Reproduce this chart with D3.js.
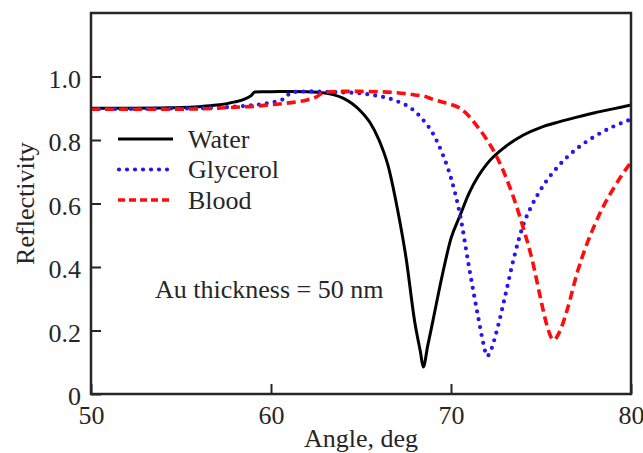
<!DOCTYPE html>
<html lang="en">
<head>
  <meta charset="UTF-8">
  <title></title>
  <style>
    body { margin: 0; background: #fff; }
  </style>
</head>
<body>
  <script src="https://d3js.org/d3.v7.min.js"></script>
  <script>
    const waterAngle = [50, 52, 54, 55, 56, 57, 58, 58.5, 58.9, 59.1, 59.5, 60, 61, 62, 63, 63.5, 64, 64.5, 65, 65.5, 66, 66.5, 67, 67.5, 68, 68.3, 68.46, 68.7, 69, 69.5, 70, 70.5, 71, 71.5, 72, 73, 74, 75, 76, 77, 78, 79, 80];
    const waterR = [0.900, 0.900, 0.901, 0.902, 0.905, 0.910, 0.920, 0.928, 0.940, 0.951, 0.952, 0.952, 0.953, 0.952, 0.948, 0.942, 0.932, 0.915, 0.890, 0.855, 0.800, 0.720, 0.590, 0.430, 0.222, 0.133, 0.085, 0.150, 0.232, 0.370, 0.490, 0.562, 0.632, 0.685, 0.725, 0.778, 0.815, 0.840, 0.857, 0.872, 0.886, 0.898, 0.910];

    const glyAngle = [50, 52, 54, 56, 57, 58, 59, 59.5, 60, 60.5, 60.8, 61.1, 61.5, 62, 63, 64, 65, 66, 66.5, 67, 67.5, 68, 68.5, 69, 69.5, 70, 70.5, 71, 71.5, 71.8, 72, 72.2, 72.5, 73, 73.5, 74, 74.5, 75, 76, 77, 78, 79, 80];
    const glyR = [0.898, 0.898, 0.899, 0.900, 0.902, 0.905, 0.910, 0.913, 0.918, 0.925, 0.932, 0.950, 0.952, 0.953, 0.952, 0.950, 0.947, 0.938, 0.932, 0.922, 0.910, 0.890, 0.860, 0.820, 0.760, 0.680, 0.565, 0.400, 0.245, 0.159, 0.119, 0.135, 0.190, 0.306, 0.430, 0.530, 0.595, 0.645, 0.720, 0.773, 0.812, 0.842, 0.865];

    const bloodAngle = [50, 52, 54, 56, 58, 59, 60, 61, 62, 62.5, 62.9, 63.3, 64, 65, 66, 67, 68, 68.5, 69, 69.5, 70, 70.5, 71, 71.5, 72, 72.5, 73, 73.5, 74, 74.5, 75, 75.3, 75.7, 76.1, 76.5, 77, 77.5, 78, 78.5, 79, 79.5, 80];
    const bloodR = [0.897, 0.897, 0.897, 0.898, 0.903, 0.906, 0.911, 0.917, 0.926, 0.935, 0.949, 0.952, 0.953, 0.953, 0.952, 0.949, 0.942, 0.938, 0.928, 0.920, 0.912, 0.900, 0.875, 0.840, 0.800, 0.752, 0.690, 0.615, 0.526, 0.425, 0.295, 0.222, 0.170, 0.205, 0.274, 0.380, 0.465, 0.535, 0.595, 0.645, 0.690, 0.730];

    const xTicks = [50, 60, 70, 80];
    const yTicks = [0, 0.2, 0.4, 0.6, 0.8, 1.0];

    const series = [
      { name: "Water", angle: waterAngle, r: waterR, color: "#000", width: 3, dash: null, cap: "butt" },
      { name: "Glycerol", angle: glyAngle, r: glyR, color: "#2a14f2", width: 4.2, dash: "0,8", cap: "round" },
      { name: "Blood", angle: bloodAngle, r: bloodR, color: "#ff0d0d", width: 3.6, dash: "9,5", cap: "butt" }
    ];

    const [width, height] = [643, 453];
    const margin = { top: 13, right: 12, bottom: 59, left: 91 };
    const font = "'Liberation Serif', 'Times New Roman', serif";
    const fs = 26;
    const ink = "#262626";

    const x = d3.scaleLinear().domain([50, 80]).range([margin.left, width - margin.right]);
    const y = d3.scaleLinear().domain([0, 1.2]).range([height - margin.bottom, margin.top]);

    const svg = d3.select(document.body)
      .append("svg")
      .attr("width", width)
      .attr("height", height)
      .attr("viewBox", [0, 0, width, height])
      .attr("font-family", font);

    const clip = svg.append("clipPath").attr("id", "clip")
      .append("rect")
      .attr("x", margin.left).attr("y", margin.top)
      .attr("width", width - margin.right - margin.left)
      .attr("height", height - margin.bottom - margin.top);

    const line = d3.line()
      .curve(d3.curveMonotoneX)
      .x(d => x(d[0]))
      .y(d => y(d[1]));

    svg.append("g")
      .attr("clip-path", "url(#clip)")
      .selectAll("path")
      .data(series)
      .join("path")
      .attr("fill", "none")
      .attr("stroke", d => d.color)
      .attr("stroke-width", d => d.width)
      .attr("stroke-dasharray", d => d.dash)
      .attr("stroke-linecap", d => d.cap)
      .attr("stroke-linejoin", "round")
      .attr("d", d => line(d.angle.map((a, i) => [a, d.r[i]])));

    // axes with inward ticks
    svg.append("g")
      .attr("transform", `translate(0,${height - margin.bottom})`)
      .call(d3.axisBottom(x).tickValues(xTicks).tickSizeInner(-10).tickSizeOuter(0).tickPadding(11.5))
      .call(g => g.select(".domain").remove())
      .call(g => g.selectAll(".tick line").attr("stroke", ink).attr("stroke-width", 2))
      .call(g => g.selectAll(".tick text").attr("font-size", fs).attr("fill", ink).attr("font-family", font));

    svg.append("g")
      .attr("transform", `translate(${margin.left},0)`)
      .call(d3.axisLeft(y).tickValues(yTicks).tickFormat(d => d === 0 ? "0" : d3.format(".1f")(d))
        .tickSizeInner(-10).tickSizeOuter(0).tickPadding(10))
      .call(g => g.select(".domain").remove())
      .call(g => g.selectAll(".tick line").attr("stroke", ink).attr("stroke-width", 2))
      .call(g => g.selectAll(".tick text").attr("font-size", fs).attr("fill", ink).attr("font-family", font).attr("dy", "0.42em"));

    svg.append("rect")
      .attr("x", margin.left).attr("y", margin.top)
      .attr("width", width - margin.right - margin.left)
      .attr("height", height - margin.bottom - margin.top)
      .attr("fill", "none")
      .attr("stroke", ink)
      .attr("stroke-width", 2.5);

    svg.append("text")
      .attr("x", (margin.left + width - margin.right) / 2)
      .attr("y", 447)
      .attr("text-anchor", "middle")
      .attr("font-size", fs)
      .attr("fill", ink)
      .text("Angle, deg");

    svg.append("text")
      .attr("transform", `translate(34,${(margin.top + height - margin.bottom) / 2}) rotate(-90)`)
      .attr("text-anchor", "middle")
      .attr("font-size", fs)
      .attr("fill", ink)
      .text("Reflectivity");

    svg.append("text")
      .attr("x", 155)
      .attr("y", 298)
      .attr("font-size", fs)
      .attr("fill", ink)
      .text("Au thickness = 50 nm");

    // legend
    const legend = svg.append("g")
      .selectAll("g")
      .data(series)
      .join("g")
      .attr("transform", (d, i) => `translate(118,${139 + i * 30.5})`);
    legend.append("line")
      .attr("x1", d => d.cap === "round" ? 1 : 0)
      .attr("x2", 55)
      .attr("stroke", d => d.color)
      .attr("stroke-width", d => d.width)
      .attr("stroke-dasharray", d => d.dash === "9,5" ? "7,4" : d.dash)
      .attr("stroke-linecap", d => d.cap);
    legend.append("text")
      .attr("x", 70)
      .attr("dy", "0.33em")
      .attr("font-size", fs)
      .attr("fill", ink)
      .text(d => d.name);
  </script>
</body>
</html>
